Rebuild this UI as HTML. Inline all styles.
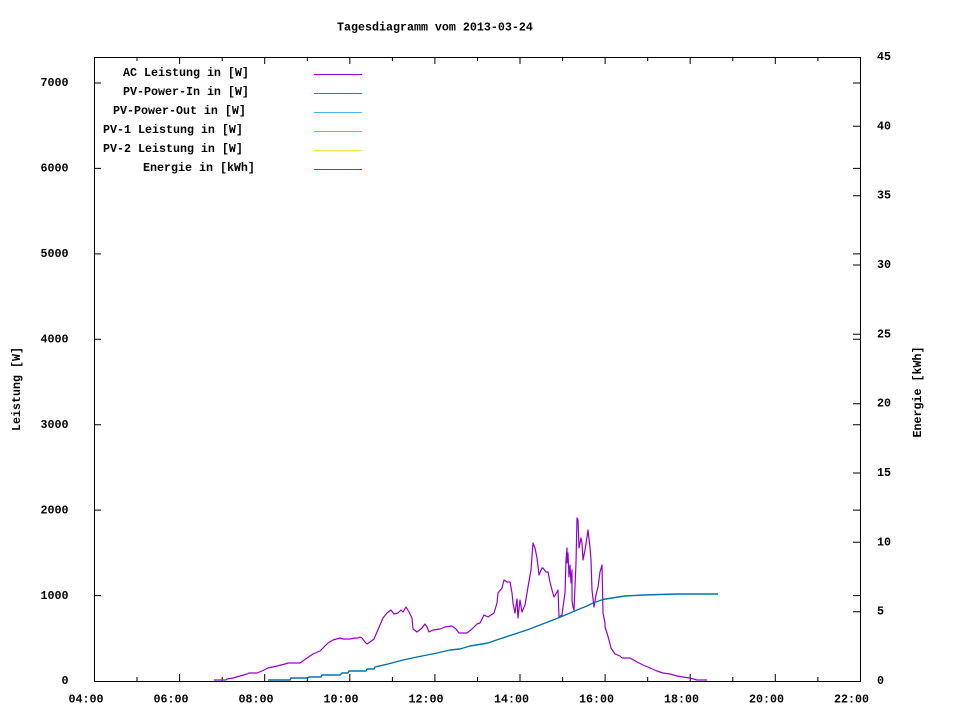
<!DOCTYPE html>
<html><head><meta charset="utf-8">
<style>
html,body{margin:0;padding:0;background:#fff;}
svg{display:block;}
text{font-family:"Liberation Mono",monospace;font-weight:bold;font-size:11.67px;fill:#000;}
</style></head>
<body>
<svg width="960" height="720" viewBox="0 0 960 720" xmlns="http://www.w3.org/2000/svg">
<rect width="960" height="720" fill="#fff"/>
<!-- title -->
<text x="337" y="30.5">Tagesdiagramm vom 2013-03-24</text>

<!-- frame -->
<rect x="94.5" y="57.5" width="766" height="624" fill="none" stroke="#000" stroke-width="1"/>

<!-- ticks -->
<g stroke="#000" stroke-width="1">
  <!-- left y ticks + mirrored on right -->
  <path d="M94 595.6h7M94 510.1h7M94 424.7h7M94 339.3h7M94 253.9h7M94 168.4h7M94 83h7
           M860 595.6h-7M860 510.1h-7M860 424.7h-7M860 339.3h-7M860 253.9h-7M860 168.4h-7M860 83h-7"/>
  <!-- y2 ticks on right -->
  <path d="M860 611.7h-7M860 542.3h-7M860 473h-7M860 403.7h-7M860 334.3h-7M860 265h-7M860 195.7h-7M860 126.3h-7"/>
  <!-- x major ticks bottom + top -->
  <path d="M179.6 681v-7M264.7 681v-7M349.8 681v-7M434.9 681v-7M520 681v-7M605.1 681v-7M690.2 681v-7M775.3 681v-7
           M179.6 57v7M264.7 57v7M349.8 57v7M434.9 57v7M520 57v7M605.1 57v7M690.2 57v7M775.3 57v7"/>
  <!-- x minor ticks -->
  <path d="M137 681v-4M222.2 681v-4M307.3 681v-4M392.4 681v-4M477.5 681v-4M562.6 681v-4M647.7 681v-4M732.8 681v-4M817.9 681v-4
           M137 57v4M222.2 57v4M307.3 57v4M392.4 57v4M477.5 57v4M562.6 57v4M647.7 57v4M732.8 57v4M817.9 57v4"/>
</g>

<!-- left tick labels -->
<g text-anchor="end">
  <text x="68.5" y="684">0</text>
  <text x="68.5" y="599">1000</text>
  <text x="68.5" y="513.5">2000</text>
  <text x="68.5" y="428">3000</text>
  <text x="68.5" y="342.5">4000</text>
  <text x="68.5" y="257">5000</text>
  <text x="68.5" y="171.5">6000</text>
  <text x="68.5" y="86">7000</text>
</g>
<!-- right tick labels -->
<g>
  <text x="877" y="684">0</text>
  <text x="877" y="614.5">5</text>
  <text x="877" y="545.3">10</text>
  <text x="877" y="476">15</text>
  <text x="877" y="406.7">20</text>
  <text x="877" y="337.3">25</text>
  <text x="877" y="268">30</text>
  <text x="877" y="198.7">35</text>
  <text x="877" y="129.3">40</text>
  <text x="877" y="60">45</text>
</g>
<!-- x tick labels -->
<g text-anchor="middle">
  <text x="86" y="702.5">04:00</text>
  <text x="171" y="702.5">06:00</text>
  <text x="256" y="702.5">08:00</text>
  <text x="341" y="702.5">10:00</text>
  <text x="426" y="702.5">12:00</text>
  <text x="511.5" y="702.5">14:00</text>
  <text x="596.5" y="702.5">16:00</text>
  <text x="681.5" y="702.5">18:00</text>
  <text x="766.5" y="702.5">20:00</text>
  <text x="851.5" y="702.5">22:00</text>
</g>

<!-- axis labels -->
<text transform="translate(20,389) rotate(-90)" text-anchor="middle">Leistung [W]</text>
<text transform="translate(921,392) rotate(-90)" text-anchor="middle">Energie [kWh]</text>

<!-- legend -->
<text x="123" y="76">AC Leistung in [W]</text>
<text x="123" y="95">PV-Power-In in [W]</text>
<text x="113" y="114">PV-Power-Out in [W]</text>
<text x="103" y="133">PV-1 Leistung in [W]</text>
<text x="103" y="152">PV-2 Leistung in [W]</text>
<text x="143" y="171">Energie in [kWh]</text>
<g stroke-width="1">
  <line x1="314" y1="74.5" x2="362" y2="74.5" stroke="#9400d3"/>
  <line x1="314" y1="93.5" x2="362" y2="93.5" stroke="#009e73"/>
  <line x1="314" y1="112.5" x2="362" y2="112.5" stroke="#56b4e9"/>
  <line x1="314" y1="131.5" x2="362" y2="131.5" stroke="#e69f00"/>
  <line x1="314" y1="150.5" x2="362" y2="150.5" stroke="#f0e442"/>
  <line x1="314" y1="169.5" x2="362" y2="169.5" stroke="#0072b2"/>
</g>

<!-- AC Leistung -->
<polyline fill="none" stroke="#9400d3" stroke-width="1.2" stroke-linejoin="round" points="
214,680 226,680 227,679 233,678 240,676 247,674 249,673 257,673 262,671 268,668 277,666 285,664 288,663 300,663 307,658 313,654 320,651 328,643 333,640 340,638 343,639 350,639 355,638 358,638 360,637 362,638 365,642 367,644 370,642 374,639 377,632 380,625 383,618 387,613 391,610 394,614 398,613 401,610 403,612 406,607 409,612 412,618 413,629 417,632 422,628 425,624 427,627 429,632 433,630 440,629 445,627 452,626 456,629 459,633 467,633 472,629 477,624 480,623 484,615 488,617 491,615 494,613 497,603 498,593 502,588 504,580 507,582 510,582 512,593 513,603 515,613 517,599 518,618 520,600 522,612 525,605 528,587 531,570 533,543 535,548 537,558 539,575 542,568 543,568 546,572 548,572 550,582 552,590 554,597 557,592 558,590 559,617 562,615 563,607 565,593 566,560 567,548 567,563 568,553 569,577 570,565 571,583 572,570 572,600 573,607 574,610 576,563 577,518 578,520 579,548 580,543 581,538 582,543 583,560 585,550 587,537 588,530 590,547 591,560 592,590 594,607 596,595 598,587 600,572 602,565 603,613 605,623 605,627 607,633 609,640 611,648 615,654 620,656 622,658 630,658 637,662 643,665 650,668 657,671 663,673 670,674 677,676 683,677 690,678 697,680 707,680"/>

<!-- Energie -->
<polyline fill="none" stroke="#0072b2" stroke-width="1.4" stroke-linejoin="round" points="
268,680 290,680 291,678 308,678 309,677 321,677 322,675 340,675 342,673 348,673 349,671 366,671 367,669 374,669 375,667 388,664 403,660 417,657 437,653 450,650 460,649 470,646 488,643 498,639.5 510,635.5 527,630 540,625 553,620 563,616 577,610 587,606 593,603 603,599.5 612,598 625,596 643,595 677,594 718,594"/>
</svg>
</body></html>
